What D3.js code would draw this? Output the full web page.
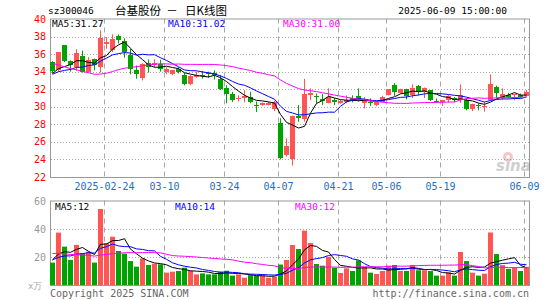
<!DOCTYPE html>
<html>
<head>
<meta charset="utf-8">
<script src="https://cdn.jsdelivr.net/npm/d3@7"></script>
<style>
body { margin: 0; background: #fff; }
text { font-family: "DejaVu Sans Mono", monospace; }
</style>
</head>
<body>
<svg id="chart" width="545" height="300"></svg>
<script>
// trading days shown (2025)
const dates = [
    "02-11", "02-12", "02-13", "02-14", "02-17", "02-18", "02-19", "02-20", "02-21", "02-24",
    "02-25", "02-26", "02-27", "02-28", "03-03", "03-04", "03-05", "03-06", "03-07", "03-10",
    "03-11", "03-12", "03-13", "03-14", "03-17", "03-18", "03-19", "03-20", "03-21", "03-24",
    "03-25", "03-26", "03-27", "03-28", "03-31", "04-01", "04-02", "04-03", "04-07", "04-08",
    "04-09", "04-10", "04-11", "04-14", "04-15", "04-16", "04-17", "04-18", "04-21", "04-22",
    "04-23", "04-24", "04-25", "04-28", "04-29", "04-30", "05-06", "05-07", "05-08", "05-09",
    "05-12", "05-13", "05-14", "05-15", "05-16", "05-19", "05-20", "05-21", "05-22", "05-23",
    "05-26", "05-27", "05-28", "05-29", "05-30", "06-03", "06-04", "06-05", "06-06", "06-09"
];
const openPrices = [
    35.05, 34.15, 37.0, 35.2, 34.5, 35.75, 33.95, 35.45, 34.55, 37.1,
    36.45, 38.05, 37.55, 35.9, 34.15, 33.25, 35.0, 34.8, 34.9, 33.95,
    33.7, 34.35, 33.65, 32.55, 33.4, 33.67, 33.8, 33.8, 33.2, 32.1,
    31.45, 30.85, 31.0, 31.15, 30.25, 30.2, 30.2, 29.8, 28.1, 24.5,
    24.1, 29.0, 28.7, 31.4, 31.25, 30.9, 30.5, 30.75, 30.45, 30.55,
    30.95, 31.25, 30.4, 30.5, 30.2, 30.55, 31.3, 32.5, 31.6, 32.0,
    31.25, 32.35, 31.6, 31.9, 30.65, 30.5, 30.75, 30.95, 30.75, 30.75,
    29.75, 30.15, 29.95, 30.75, 32.25, 30.95, 31.3, 31.25, 31.35, 31.25
];
const highPrices = [
    35.2, 36.2, 37.0, 35.3, 36.55, 36.4, 35.65, 35.5, 38.7, 37.95,
    38.25, 38.25, 37.8, 36.6, 34.7, 34.95, 35.4, 35.4, 35.35, 34.5,
    34.2, 34.5, 33.85, 33.6, 34.0, 34.1, 34.0, 34.15, 33.6, 32.45,
    31.7, 31.3, 31.9, 31.7, 30.6, 30.5, 30.55, 30.7, 28.7, 26.4,
    29.0, 30.2, 33.2, 32.1, 31.5, 31.45, 32.1, 31.0, 30.8, 31.3,
    31.3, 32.1, 31.1, 30.95, 30.6, 31.25, 32.0, 32.7, 32.05, 32.05,
    32.55, 32.5, 32.2, 31.9, 30.95, 30.8, 31.35, 31.1, 32.55, 30.95,
    30.35, 30.4, 30.55, 33.7, 32.4, 32.1, 31.6, 31.5, 31.5, 31.9
];
const lowPrices = [
    33.8, 34.0, 35.1, 34.0, 34.1, 33.9, 33.9, 34.15, 33.9, 36.6,
    36.25, 37.2, 35.6, 33.7, 33.2, 33.0, 33.9, 34.5, 34.0, 33.7,
    33.6, 33.8, 32.45, 32.45, 33.3, 33.2, 33.3, 33.1, 31.9, 30.4,
    30.55, 30.6, 30.5, 30.4, 29.4, 30.1, 30.15, 29.5, 24.0, 24.3,
    23.3, 28.3, 28.3, 30.75, 30.4, 30.2, 30.4, 30.2, 30.35, 30.4,
    30.5, 30.6, 29.8, 30.1, 30.05, 30.5, 31.3, 31.25, 31.5, 30.85,
    31.0, 31.3, 31.0, 30.65, 30.45, 30.1, 30.5, 30.55, 30.45, 29.6,
    29.5, 29.6, 29.45, 30.7, 31.0, 30.75, 30.95, 30.75, 31.0, 31.2
];
const closePrices = [
    34.0, 36.2, 35.2, 34.75, 36.1, 33.95, 35.3, 34.75, 37.8, 37.35,
    37.7, 37.65, 36.35, 34.25, 33.75, 34.9, 34.6, 35.0, 34.3, 34.3,
    34.15, 34.0, 32.65, 33.5, 33.6, 33.6, 33.65, 33.6, 32.1, 31.45,
    30.75, 31.0, 31.25, 30.55, 30.1, 30.45, 30.45, 30.55, 24.1, 25.55,
    28.95, 28.75, 31.5, 31.6, 31.1, 30.65, 31.15, 30.5, 30.7, 30.75,
    30.65, 30.85, 30.75, 30.35, 30.55, 31.1, 32.0, 31.7, 32.0, 31.15,
    32.1, 31.7, 32.1, 30.75, 30.5, 30.75, 31.25, 30.75, 31.3, 29.75,
    30.3, 30.0, 30.05, 32.55, 31.6, 31.45, 31.1, 31.4, 31.1, 31.65
];
// volume, 万手
const volumes = [
    16.0, 37.4, 27.4, 17.9, 28.6, 22.6, 23.8, 16.0, 54.3, 29.8,
    34.5, 24.3, 22.4, 17.1, 13.1, 19.0, 14.3, 15.2, 14.8, 8.8,
    9.5, 10.0, 12.4, 10.0, 7.6, 8.3, 7.6, 7.6, 9.5, 10.2,
    6.7, 7.6, 5.2, 7.1, 6.7, 6.7, 5.2, 6.0, 14.6, 17.9,
    28.6, 25.7, 38.8, 30.0, 15.0, 13.8, 20.2, 12.4, 8.6, 11.9,
    10.0, 17.6, 12.9, 8.8, 7.9, 10.0, 13.8, 14.3, 10.0, 10.0,
    14.3, 10.5, 10.5, 10.0, 6.7, 6.7, 9.0, 6.7, 23.6, 17.1,
    8.8, 6.7, 8.1, 37.5, 22.1, 14.2, 11.5, 12.5, 10.0, 13.0
];
// sessions before the window, only used for the moving averages
const earlierCloses = [
    42.0, 41.3, 40.8, 40.2, 39.8, 39.5, 40.15,
    37.0, 34.5, 32.0, 31.0, 31.5, 31.8, 31.2, 31.5, 32.0, 32.5, 32.65,
    34.8, 35.3, 33.2, 33.8, 33.5, 33.9, 33.6, 33.5, 34.0, 33.6, 33.9
];
const earlierVolumes = [
    35, 38, 30, 33, 31, 29, 34, 31,
    18, 16, 15, 14, 13, 15, 17, 14, 16, 18.5,
    40, 37.5, 20, 17, 18, 16, 19, 17, 19, 20, 18
];
const priceTicks = [24, 26, 28, 30, 32, 34, 36, 38];
const priceLabels = [22, 24, 26, 28, 30, 32, 34, 36, 38, 40];
const volumeTicks = [20, 40];
const volumeLabels = [20, 40, 60];
const dateTicks = ["02-24", "03-10", "03-24", "04-07", "04-21", "05-06", "05-19", "06-09"];
const dateTickLabels = ["2025-02-24", "03-10", "03-24", "04-07", "04-21", "05-06", "05-19", "06-09"];
const maPeriods = [5, 10, 30];
const maColors = ["#000", "#0000ff", "#ff00ff"];
const priceMaLabels = ["MA5:31.27", "MA10:31.02", "MA30:31.00"];
const volumeMaLabels = ["MA5:12", "MA10:14", "MA30:12"];

const svg = d3.select("#chart"),
    up = "#ff5555",
    down = "#00a400",
    gridColor = "#a8a8a8";

const x = d3.scaleBand()
    .domain(dates)
    .range([50, 529])
    .paddingInner(1 / 6)
    .paddingOuter(0);

const priceY = d3.scaleLinear().domain([22, 40]).range([177, 19]);
const volumeY = d3.scaleLinear().domain([0, 60]).range([285, 201]);

const candles = dates.map(function (d, i) {
    return {
        date: d, open: openPrices[i], high: highPrices[i], low: lowPrices[i],
        close: closePrices[i], volume: volumes[i]
    };
});

function movingAverage(values, earlier, n) {
    const all = earlier.concat(values), offset = earlier.length;
    return values.map(function (v, i) {
        let sum = 0;
        for (let j = offset + i - n + 1; j <= offset + i; j++) sum += all[j];
        return sum / n;
    });
}

function crisp(v) { return Math.round(v) + 0.5; }

// header
svg.append("text").attr("x", 48).attr("y", 14).attr("font-size", 9.5).text("sz300046");
svg.append("text").attr("x", 115).attr("y", 15)
    .style("font-family", "'Noto Sans CJK SC'").attr("font-size", 11.5).text("台基股份");
svg.append("text").attr("x", 172).attr("y", 15).attr("text-anchor", "middle")
    .style("font-family", "'Noto Sans CJK SC'").attr("font-size", 11.5).text("－");
svg.append("text").attr("x", 185).attr("y", 15)
    .style("font-family", "'Noto Sans CJK SC'").attr("font-size", 11.5).text("日K线图");
svg.append("text").attr("x", 507).attr("y", 14).attr("text-anchor", "end")
    .attr("font-size", 9.5).text("2025-06-09 15:00:00");

function drawPanel(yScale, ticks, top, bottom) {
    const g = svg.append("g");
    g.selectAll("line.h")
        .data(ticks)
        .enter()
        .append("line")
        .attr("x1", 51).attr("x2", 529)
        .attr("y1", function (d) { return crisp(yScale(d)); })
        .attr("y2", function (d) { return crisp(yScale(d)); })
        .attr("stroke", gridColor)
        .attr("stroke-dasharray", "1,2");
    g.selectAll("line.v")
        .data(dateTicks)
        .enter()
        .append("line")
        .attr("x1", function (d) { return x(d) + 0.5; })
        .attr("x2", function (d) { return x(d) + 0.5; })
        .attr("y1", top).attr("y2", bottom)
        .attr("stroke", gridColor)
        .attr("stroke-dasharray", "5,4");
    g.append("rect")
        .attr("x", 50.5).attr("y", top + 0.5)
        .attr("width", 479).attr("height", bottom - top)
        .attr("fill", "none")
        .attr("stroke", "#999");
}

drawPanel(priceY, priceTicks, 18.5, 177);
drawPanel(volumeY, volumeTicks, 200.5, 285);

// axis labels
svg.append("g").selectAll("text")
    .data(priceLabels)
    .enter()
    .append("text")
    .attr("x", 46).attr("y", function (d) { return priceY(d); })
    .attr("dy", "0.35em")
    .attr("text-anchor", "end")
    .attr("font-size", 10)
    .attr("fill", "#f00")
    .text(function (d) { return d; });

svg.append("g").selectAll("text")
    .data(volumeLabels)
    .enter()
    .append("text")
    .attr("x", 46).attr("y", function (d) { return volumeY(d); })
    .attr("dy", "0.35em")
    .attr("text-anchor", "end")
    .attr("font-size", 10)
    .attr("fill", "#999")
    .text(function (d) { return d; });

svg.append("text").attr("x", 28).attr("y", 289)
    .attr("font-size", 9).attr("fill", "#aaa").text("x万");

svg.append("g").selectAll("text")
    .data(dateTicks)
    .enter()
    .append("text")
    .attr("x", function (d) { return x(d) + 0.5; })
    .attr("y", 190)
    .attr("text-anchor", "middle")
    .attr("font-size", 10)
    .attr("fill", "#1a70c8")
    .text(function (d, i) { return dateTickLabels[i]; });

// sina watermark
const mark = svg.append("g").attr("opacity", 0.35);
mark.append("circle").attr("cx", 508).attr("cy", 157).attr("r", 5).attr("fill", "#e06060");
mark.append("circle").attr("cx", 508).attr("cy", 157).attr("r", 2).attr("fill", "#fff");
mark.append("text").attr("x", 496).attr("y", 171)
    .style("font-family", "'DejaVu Sans'")
    .attr("font-size", 15).attr("font-weight", "bold").attr("font-style", "italic")
    .attr("fill", "#777").text("sina");

// candles
const candleGroup = svg.append("g")
    .selectAll("g")
    .data(candles)
    .enter()
    .append("g")
    .attr("fill", function (d) { return d.close >= d.open ? up : down; });

candleGroup.append("rect")
    .attr("x", function (d) { return x(d.date) + 2; })
    .attr("width", 1)
    .attr("y", function (d) { return priceY(d.high); })
    .attr("height", function (d) { return priceY(d.low) - priceY(d.high); });

candleGroup.append("rect")
    .attr("x", function (d) { return x(d.date); })
    .attr("width", x.bandwidth())
    .attr("y", function (d) { return Math.round(priceY(Math.max(d.open, d.close))); })
    .attr("height", function (d) {
        return Math.max(1, Math.round(Math.abs(priceY(d.open) - priceY(d.close))));
    });

// volume bars
svg.append("g")
    .selectAll("rect")
    .data(candles)
    .enter()
    .append("rect")
    .attr("x", function (d) { return x(d.date); })
    .attr("width", x.bandwidth())
    .attr("y", function (d) { return volumeY(d.volume); })
    .attr("height", function (d) { return volumeY(0) - volumeY(d.volume); })
    .attr("fill", function (d) { return d.close >= d.open ? up : down; });

// moving averages
maPeriods.forEach(function (n, i) {
    const priceMa = movingAverage(closePrices, earlierCloses, n),
        volumeMa = movingAverage(volumes, earlierVolumes, n);
    const priceLine = d3.line()
        .x(function (d, j) { return x(dates[j]) + 2.5; })
        .y(function (d) { return priceY(d); });
    const volumeLine = d3.line()
        .x(function (d, j) { return x(dates[j]) + 2.5; })
        .y(function (d) { return volumeY(d); });
    svg.append("path").attr("d", priceLine(priceMa))
        .attr("fill", "none").attr("stroke", maColors[i]).attr("stroke-width", 1);
    svg.append("path").attr("d", volumeLine(volumeMa))
        .attr("fill", "none").attr("stroke", maColors[i]).attr("stroke-width", 1);
});

// legends
const priceLegendX = [52, 168, 283],
    volumeLegendX = [55, 175, 295];
priceMaLabels.forEach(function (label, i) {
    svg.append("text").attr("x", priceLegendX[i]).attr("y", 27)
        .attr("font-size", 9.5).attr("fill", maColors[i]).text(label);
});
volumeMaLabels.forEach(function (label, i) {
    svg.append("text").attr("x", volumeLegendX[i]).attr("y", 210)
        .attr("font-size", 9.5).attr("fill", maColors[i]).text(label);
});

// footer
svg.append("text").attr("x", 50).attr("y", 297)
    .attr("font-size", 10).attr("fill", "#666").text("Copyright 2025 SINA.COM");
svg.append("text").attr("x", 529).attr("y", 297).attr("text-anchor", "end")
    .attr("font-size", 10).attr("fill", "#666").text("http://finance.sina.com.cn");
</script>
</body>
</html>
